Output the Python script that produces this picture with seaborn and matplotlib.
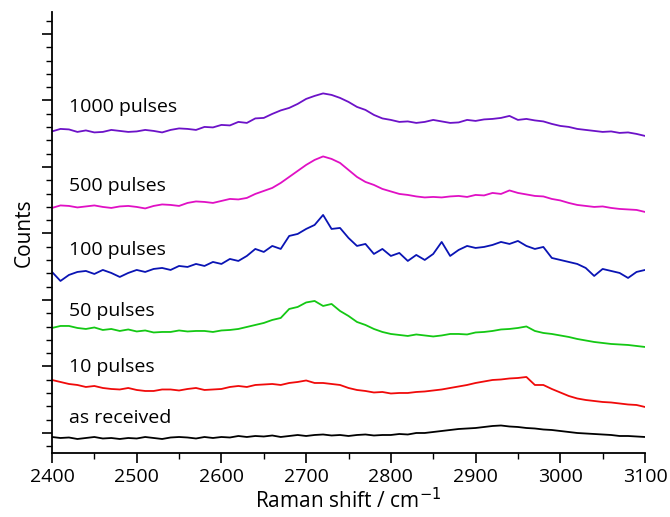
import numpy as np
import pandas as pd
import matplotlib
matplotlib.use("Agg")
import matplotlib.pyplot as plt
from matplotlib.ticker import MultipleLocator
import seaborn as sns

# Raman shift grid, cm-1
SHIFT = np.arange(2400, 3101, 10)

# spectra (counts, already stacked with offsets)
PULSES_1000 = [
    321.5, 324, 323.5, 321, 322.5, 320.5, 321, 323, 322, 321,
    321.5, 323, 322, 320.5, 323, 324.5, 324, 323, 326, 325.5,
    328, 327.5, 331, 330, 334.5, 335, 339, 342.5, 345, 349,
    354, 357, 359.5, 358, 355, 351, 346, 343, 338, 334.5,
    333, 331, 331.5, 330, 331, 333, 331.5, 330, 330.5, 333,
    332, 333.5, 334, 335, 337, 333, 334, 332.5, 331.5, 329,
    327, 326, 324, 323, 322, 321, 321.5, 320, 320.5, 319,
    317,
]
PULSES_500 = [
    245, 247.5, 247, 245.5, 246.5, 247.5, 246, 245, 246.5, 247,
    246, 244.5, 247, 248.5, 248, 247, 250, 251.5, 251, 250,
    252, 254, 253.5, 255, 259, 262, 265, 270, 276, 282,
    288, 293, 296.5, 294, 290, 283, 276, 271, 268, 264,
    261.5, 259, 258, 256.5, 255.5, 256, 255.5, 256.5, 257, 256,
    258, 257.5, 260, 259, 262.5, 260, 258.5, 257, 256.5, 254,
    252.5, 250, 248, 247, 246, 246.5, 245, 244, 243.5, 243,
    241,
]
PULSES_100 = [
    181, 172, 178, 181, 182, 179, 183, 180, 176, 180,
    183, 181, 184, 185, 183, 187, 186, 189, 187, 191,
    189, 194, 192, 197, 204, 201, 207, 204, 217, 219,
    224, 228, 238, 224, 225, 215, 207, 209, 199, 204,
    197, 200, 192, 198, 193, 199, 211, 197, 203, 207,
    205, 206, 208, 211, 209, 212, 207, 204, 206, 195,
    193, 191, 189, 185, 177, 184, 182, 180, 175, 181,
    183,
]
PULSES_50 = [
    125, 127, 127, 125, 124, 125.5, 123, 124, 122, 123.5,
    121.5, 122.5, 120.5, 121, 121, 122.5, 121.5, 122, 122, 121,
    122.5, 123, 124, 126, 128, 130, 133, 135, 144, 146,
    150.5, 152, 147, 149, 142, 137, 131, 128, 124, 121,
    119, 118, 117, 118.5, 117.5, 116.5, 117.5, 119, 119, 118.5,
    120.5, 121, 122, 123.5, 124, 125, 126.5, 122, 120, 119,
    117.5, 116, 114, 112.5, 111, 110, 109, 108.5, 108, 107,
    106,
]
PULSES_10 = [
    73, 71, 69, 68, 66, 67, 65, 64, 63.5, 65,
    63, 62, 62, 63.5, 63.5, 62.5, 64, 65, 63, 63.5,
    64, 66, 67, 66, 68, 68.5, 69, 68, 70, 71,
    72.5, 70, 70, 69, 68, 65, 63, 62, 60.5, 61,
    59.5, 60, 60, 61, 61.5, 62.5, 63.5, 65, 66.5, 68,
    70, 71.5, 73, 73.5, 74.5, 75, 76, 68, 68, 64,
    60.5, 57, 54.5, 53, 52, 51, 50.5, 49.5, 48.5, 48,
    46,
]
AS_RECEIVED = [
    16, 15, 15.5, 14, 15, 16, 14.5, 15, 14, 15,
    14.5, 16, 15, 14, 15.5, 16, 15.5, 14.5, 16, 15,
    16, 15.5, 17, 16, 17, 16.5, 17.5, 16, 17, 18,
    17, 18, 18.5, 17.5, 18, 17, 18, 18.5, 17.5, 18,
    18, 19, 18.5, 20, 20, 21, 22, 23, 24, 24.5,
    25, 26, 27, 27.5, 26.5, 26, 25, 24.5, 23.5, 23,
    22, 21, 20, 19.5, 19, 18.5, 18, 17, 17, 16.5,
    16,
]

SAMPLES = ["1000 pulses", "500 pulses", "100 pulses",
           "50 pulses", "10 pulses", "as received"]
SPECTRA = [PULSES_1000, PULSES_500, PULSES_100,
           PULSES_50, PULSES_10, AS_RECEIVED]
COLORS = ["#6c12c8", "#e010c4", "#0a14b4", "#14c814", "#f00a0a", "#000000"]
# label baselines (counts) on the left
LABEL_Y = [341, 262, 198, 137, 81, 30]

df = pd.concat(
    [pd.DataFrame({"shift": SHIFT, "counts": s, "sample": name})
     for name, s in zip(SAMPLES, SPECTRA)],
    ignore_index=True,
)

sns.set_style("ticks")
plt.rcParams["font.family"] = ["Open Sans", "DejaVu Sans"]
plt.rcParams["text.color"] = "black"
plt.rcParams["axes.labelcolor"] = "black"

fig = plt.figure(figsize=(6.7, 5.17), dpi=100)
ax = fig.add_axes([0.0776, 0.1238, 0.8851, 0.8532])

sns.lineplot(data=df, x="shift", y="counts", hue="sample",
             palette=dict(zip(SAMPLES, COLORS)), hue_order=SAMPLES,
             linewidth=1.3, legend=False, ax=ax)

for name, y in zip(SAMPLES, LABEL_Y):
    ax.text(2420, y, name, fontsize=14, va="baseline", ha="left")

ax.set_xlim(2400, 3100)
ax.set_ylim(0, 441)
ax.xaxis.set_major_locator(MultipleLocator(100))
ax.xaxis.set_minor_locator(MultipleLocator(50))
ax.yaxis.set_major_locator(MultipleLocator(66.5, offset=20))
ax.yaxis.set_minor_locator(MultipleLocator(13.3, offset=6.7))
ax.set_yticklabels([])

ax.tick_params(axis="both", which="major", length=7, width=1.2,
               direction="out", labelsize=14, colors="black")
ax.tick_params(axis="both", which="minor", length=4, width=1.0,
               direction="out", colors="black")
for side in ["left", "bottom"]:
    ax.spines[side].set_linewidth(1.3)
    ax.spines[side].set_color("black")
sns.despine(ax=ax)

ax.set_xlabel("Raman shift / cm$^{-1}$", fontsize=15, labelpad=2)
ax.set_ylabel("Counts", fontsize=15, labelpad=2)

fig.savefig("out.png", dpi=100)
